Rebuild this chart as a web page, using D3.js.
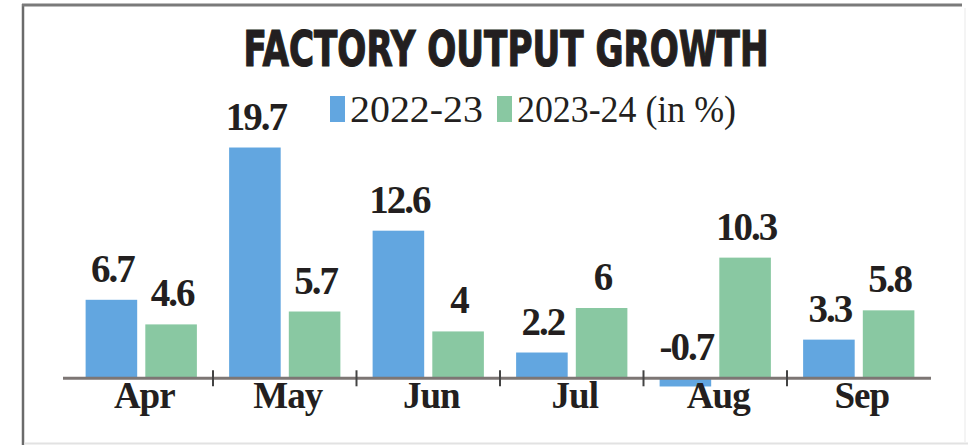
<!DOCTYPE html>
<html>
<head>
<meta charset="utf-8">
<script src="https://cdn.jsdelivr.net/npm/d3@7"></script>
<style>
  body { margin: 0; background: #fff; }
  svg { display: block; }
</style>
</head>
<body>
<div id="chart-area"></div>
<script>
// Data
var months = ["Apr", "May", "Jun", "Jul", "Aug", "Sep"];
var series = ["2022-23", "2023-24"];
var values2223 = [6.7, 19.7, 12.6, 2.2, -0.7, 3.3];
var values2324 = [4.6, 5.7, 4, 6, 10.3, 5.8];
var legendLabels = ["2022-23", "2023-24 (in %)"];

var width = 968, height = 445;
var colors = { "2022-23": "#62a6e0", "2023-24": "#89c8a2" };

var svg = d3.select("#chart-area").append("svg")
  .attr("width", width)
  .attr("height", height);

// frame
svg.append("line").attr("x1", 23).attr("x2", 23).attr("y1", 4).attr("y2", 445)
  .attr("stroke", "#6b6b6b").attr("stroke-width", 2.5);
svg.append("line").attr("x1", 22).attr("x2", 962).attr("y1", 5).attr("y2", 5)
  .attr("stroke", "#7a7a7a").attr("stroke-width", 3);
svg.append("line").attr("x1", 24).attr("x2", 968).attr("y1", 443.5).attr("y2", 443.5)
  .attr("stroke", "#e2e2e2").attr("stroke-width", 2);
svg.append("line").attr("x1", 965).attr("x2", 965).attr("y1", 8).attr("y2", 443)
  .attr("stroke", "#f0f0f0").attr("stroke-width", 1.5);

// title
svg.append("text")
  .attr("x", 506)
  .attr("y", 66)
  .attr("text-anchor", "middle")
  .attr("textLength", 525)
  .attr("lengthAdjust", "spacingAndGlyphs")
  .style("font-family", "'DejaVu Sans Condensed', 'DejaVu Sans', sans-serif")
  .style("font-weight", "bold")
  .style("font-size", "50px")
  .style("fill", "#231f20")
  .style("stroke", "#231f20")
  .style("stroke-width", "1.2px")
  .text("FACTORY OUTPUT GROWTH");

// legend
var legendX = [330, 497];
var legendW = [133, 219];
series.forEach(function(s, i) {
  svg.append("rect")
    .attr("x", legendX[i]).attr("y", 96)
    .attr("width", 15).attr("height", 26)
    .attr("fill", colors[s]);
  svg.append("text")
    .attr("x", legendX[i] + 20)
    .attr("y", 122)
    .attr("textLength", legendW[i])
    .attr("lengthAdjust", "spacingAndGlyphs")
    .style("font-family", "'Liberation Serif', serif")
    .style("font-size", "38px")
    .style("fill", "#231f20")
    .text(legendLabels[i]);
});

// scales
var x0 = d3.scaleBand().domain(months).range([69.5, 930.5]);
var x1 = d3.scaleBand().domain(series).range([0, x0.bandwidth()])
  .paddingInner(0.136).paddingOuter(0.27);
var y = d3.scaleLinear().domain([-1, 20]).range([390, 144]);

var rows = months.map(function(m, i) {
  return { month: m, vals: [
    { key: "2022-23", value: values2223[i] },
    { key: "2023-24", value: values2324[i] }
  ]};
});

// bars
var groups = svg.selectAll("g.month")
  .data(rows)
  .enter()
  .append("g")
  .attr("class", "month")
  .attr("transform", function(d) { return "translate(" + x0(d.month) + ",0)"; });

groups.selectAll("rect")
  .data(function(d) { return d.vals; })
  .enter()
  .append("rect")
  .attr("x", function(d) { return x1(d.key); })
  .attr("width", x1.bandwidth())
  .attr("y", function(d) { return y(Math.max(0, d.value)); })
  .attr("height", function(d) { return Math.abs(y(d.value) - y(0)); })
  .attr("fill", function(d) { return colors[d.key]; });

// value labels
groups.selectAll("text.val")
  .data(function(d) { return d.vals; })
  .enter()
  .append("text")
  .attr("class", "val")
  .attr("x", function(d) { return x1(d.key) + x1.bandwidth() / 2 + 1; })
  .attr("y", function(d) { return y(Math.max(0, d.value)) - 18; })
  .attr("text-anchor", "middle")
  .style("font-family", "'Liberation Serif', serif")
  .style("font-weight", "bold")
  .style("font-size", "39px")
  .style("letter-spacing", "-2px")
  .style("fill", "#231f20")
  .text(function(d) { return d.value; });

// axis line and ticks between months
svg.append("line")
  .attr("x1", 63).attr("x2", 931)
  .attr("y1", y(0)).attr("y2", y(0))
  .attr("stroke", "#7d7674").attr("stroke-width", 3);

svg.selectAll("line.tick")
  .data(months.slice(1))
  .enter()
  .append("line")
  .attr("class", "tick")
  .attr("x1", function(d) { return x0(d); })
  .attr("x2", function(d) { return x0(d); })
  .attr("y1", y(0) - 8).attr("y2", y(0) + 8)
  .attr("stroke", "#444").attr("stroke-width", 2);

// month labels
var xAxis = d3.axisBottom(x0).tickSize(0).tickPadding(0);
var gx = svg.append("g")
  .attr("transform", "translate(3," + 378 + ")")
  .call(xAxis);
gx.select(".domain").remove();
gx.selectAll("text")
  .attr("dy", null)
  .attr("y", 30)
  .style("font-family", "'Liberation Serif', serif")
  .style("font-weight", "bold")
  .style("font-size", "37px")
  .style("letter-spacing", "-1px")
  .style("fill", "#231f20");
</script>
</body>
</html>
